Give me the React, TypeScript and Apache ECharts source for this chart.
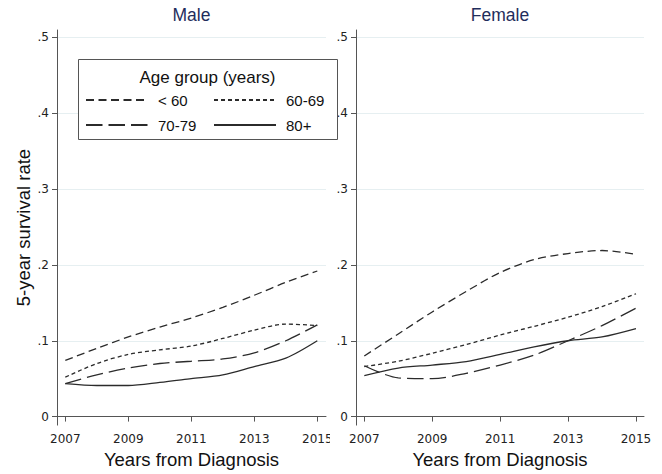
import React, { useEffect, useRef } from 'react';
import * as echarts from 'echarts';

const years = [2007, 2008, 2009, 2010, 2011, 2012, 2013, 2014, 2015];
const groups = ['< 60', '60-69', '70-79', '80+'];

const maleLt60 = [0.074, 0.09, 0.105, 0.118, 0.13, 0.144, 0.16, 0.177, 0.192];
const male6069 = [0.052, 0.07, 0.082, 0.088, 0.093, 0.103, 0.114, 0.122, 0.12];
const male7079 = [0.0435, 0.055, 0.064, 0.07, 0.073, 0.076, 0.084, 0.1, 0.121];
const male80 = [0.0435, 0.041, 0.041, 0.045, 0.05, 0.055, 0.066, 0.077, 0.1];

const femLt60 = [0.08, 0.109, 0.138, 0.165, 0.19, 0.207, 0.215, 0.219, 0.214];
const fem6069 = [0.066, 0.073, 0.0835, 0.095, 0.1075, 0.119, 0.131, 0.145, 0.162];
const fem7079 = [0.067, 0.051, 0.05, 0.057, 0.068, 0.081, 0.1, 0.12, 0.143];
const fem80 = [0.054, 0.064, 0.068, 0.0726, 0.082, 0.092, 0.1, 0.105, 0.116];

const xTicks = [2007, 2009, 2011, 2013, 2015];
const yTicks = [0, 0.1, 0.2, 0.3, 0.4, 0.5];
const yTickLabels = ['0', '.1', '.2', '.3', '.4', '.5'];

const panelTitles = ['Male', 'Female'];
const xTitle = 'Years from Diagnosis';
const yTitle = '5-year survival rate';
const legendTitle = 'Age group (years)';

const FONT = '"Liberation Sans", Arial, Helvetica, sans-serif';
const TICKFONT = '"DejaVu Sans", "Liberation Sans", sans-serif';
const dashes: any[] = [[8, 4.5], [4, 3], [16.5, 6], 'solid'];
const LINE = '#2b2b2b';
const AXIS = '#555555';
const GRIDC = '#e6eff1';

export default function App() {
  const ref = useRef<HTMLDivElement>(null);
  useEffect(() => {
    const chart = echarts.init(ref.current!, null, { renderer: 'svg' });

    const mkX = (idx: number, min: number, max: number) => ({
      type: 'value',
      gridIndex: idx,
      min,
      max,
      name: xTitle,
      nameLocation: 'middle',
      nameGap: 15,
      nameTextStyle: { fontFamily: FONT, fontSize: 18.5, color: '#111' },
      axisLine: { show: true, lineStyle: { color: AXIS, width: 1 } },
      axisTick: { show: true, length: 5, lineStyle: { color: AXIS }, customValues: xTicks },
      axisLabel: {
        customValues: xTicks,
        margin: 8,
        fontFamily: TICKFONT,
        fontSize: 12,
        color: '#222',
        formatter: (v: number) => String(v),
      },
      splitLine: { show: false },
    });

    const mkY = (idx: number, withName: boolean) => ({
      type: 'value',
      gridIndex: idx,
      min: -0.01122,
      max: 0.50979,
      name: withName ? yTitle : '',
      nameLocation: 'middle',
      nameGap: 24,
      nameTextStyle: { fontFamily: FONT, fontSize: 18.5, color: '#111' },
      axisLine: { show: true, lineStyle: { color: AXIS, width: 1 } },
      axisTick: { show: true, length: 5, lineStyle: { color: AXIS }, customValues: yTicks },
      axisLabel: {
        customValues: yTicks,
        margin: 8,
        fontFamily: TICKFONT,
        fontSize: 12,
        color: '#222',
        formatter: (v: number) => {
          const i = yTicks.findIndex((t) => Math.abs(t - v) < 1e-6);
          return i >= 0 ? yTickLabels[i] : '';
        },
      },
      splitLine: { show: true, lineStyle: { color: GRIDC, width: 1 } },
    });

    const mk = (name: string, data: number[], idx: number, dash: any) => ({
      type: 'line',
      name,
      xAxisIndex: idx,
      yAxisIndex: idx,
      data: years.map((y, i) => [y, data[i]]),
      symbol: 'none',
      showSymbol: false,
      smooth: 0.3,
      silent: true,
      emphasis: { disabled: true },
      itemStyle: { color: LINE },
      lineStyle: { color: LINE, width: 1.3, type: dash },
      z: 3,
    });

    const maleSets = [maleLt60, male6069, male7079, male80];
    const femSets = [femLt60, fem6069, fem7079, fem80];
    const series: any[] = [];
    groups.forEach((g, i) => series.push(mk(g, maleSets[i], 0, dashes[i])));
    groups.forEach((g, i) => series.push(mk(g, femSets[i], 1, dashes[i])));

    const legendCommon = {
      orient: 'vertical',
      top: 92.5,
      itemWidth: 62,
      itemHeight: 15,
      itemGap: 10,
      padding: 0,
      selectedMode: false,
      z: 6,
      itemStyle: { opacity: 0 },
      textStyle: { fontFamily: FONT, fontSize: 15, color: '#111', padding: [0, 0, 0, 5] },
    };

    const option: any = {
      animation: false,
      backgroundColor: '#ffffff',
      grid: [
        { left: 57, width: 269, top: 30, bottom: 44.7 },
        { left: 356, width: 288, top: 30, bottom: 44.7 },
      ],
      xAxis: [mkX(0, 2006.7365, 2015.276), mkX(1, 2006.7556, 2015.236)],
      yAxis: [mkY(0, true), mkY(1, false)],
      legend: [
        { ...legendCommon, left: 85, data: [groups[0], groups[2]] },
        { ...legendCommon, left: 213, data: [groups[1], groups[3]] },
      ],
      graphic: [
        {
          type: 'rect',
          z: 5,
          shape: { x: 78.5, y: 59.5, width: 259, height: 80 },
          style: { fill: '#ffffff', stroke: '#555555', lineWidth: 1 },
        },
        {
          type: 'text',
          z: 6,
          x: 207.5,
          y: 77,
          style: {
            text: legendTitle,
            fill: '#111',
            font: `17px ${FONT}`,
            textAlign: 'center',
            textVerticalAlign: 'middle',
          },
        },
        {
          type: 'text',
          x: 191.5,
          y: 15,
          style: {
            text: panelTitles[0],
            fill: '#1f2d5c',
            font: `17.5px ${FONT}`,
            textAlign: 'center',
            textVerticalAlign: 'middle',
          },
        },
        {
          type: 'text',
          x: 500,
          y: 15,
          style: {
            text: panelTitles[1],
            fill: '#1f2d5c',
            font: `17.5px ${FONT}`,
            textAlign: 'center',
            textVerticalAlign: 'middle',
          },
        },
        {
          type: 'rect',
          z: 10,
          shape: { x: 330, y: 434, width: 15, height: 18 },
          style: { fill: '#ffffff' },
        },
      ],
      series,
    };

    chart.setOption(option);
    return () => chart.dispose();
  }, []);

  return (
    <div
      ref={ref}
      style={{ position: 'absolute', left: 0, top: 0, width: 662, height: 474 }}
    />
  );
}
